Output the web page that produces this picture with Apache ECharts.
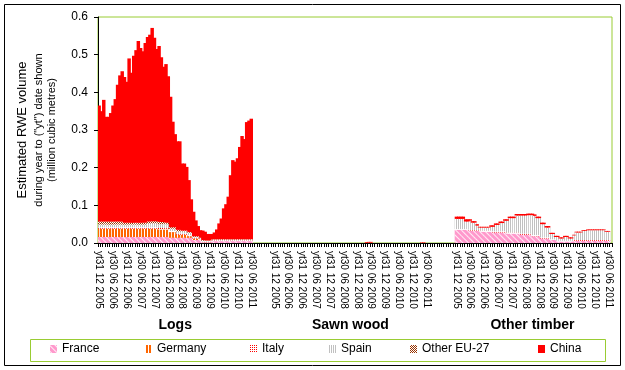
<!DOCTYPE html>
<html>
<head>
<meta charset="utf-8">
<script src="https://cdn.jsdelivr.net/npm/echarts@6/dist/echarts.min.js"></script>
<style>html,body{margin:0;padding:0;background:#fff;}#c{width:625px;height:370px;}</style>
</head>
<body>
<div id="c"></div>
<script>
// ---- data ----
const groups = ['Logs', 'Sawn wood', 'Other timber'];
const tickLabels = ['yt31 12 2005','yt30 06 2006','yt31 12 2006','yt30 06 2007','yt31 12 2007','yt30 06 2008',
                    'yt31 12 2008','yt30 06 2009','yt31 12 2009','yt30 06 2010','yt31 12 2010','yt30 06 2011'];
const seriesNames = ['France', 'Germany', 'Italy', 'Spain', 'Other EU-27', 'China'];

const logsFrance = [0.016,0.016,0.016,0.016,0.016,0.016,0.016,0.016,0.016,0.016,
  0.016,0.016,0.016,0.016,0.016,0.016,0.016,0.016,0.016,0.016,
  0.016,0.016,0.016,0.016,0.016,0.016,0.016,0.016,0.016,0.016,
  0.016,0.014,0.014,0.014,0.014,0.014,0.014,0.014,0.014,0.014,
  0.014,0.008,0.008,0.008,0.008,0.002,0.002,0.002,0.002,0.005,
  0.005,0.005,0.005,0.005,0.005,0.005,0.005,0.005,0.005,0.005,
  0.005,0.005,0.005,0.005,0.005,0.005,0.005];
const logsGermany = [0.022,0.022,0.022,0.022,0.022,0.022,0.022,0.022,0.022,0.022,
  0.022,0.022,0.022,0.022,0.022,0.022,0.022,0.022,0.022,0.022,
  0.022,0.022,0.022,0.022,0.022,0.022,0.020,0.020,0.020,0.020,
  0.020,0.015,0.015,0.015,0.008,0.008,0.008,0.008,0.008,0.004,
  0.004,0.004,0.004,0.004,0,0,0,0,0,0,
  0,0,0,0,0,0,0,0,0,0,
  0,0,0,0,0,0,0];
const logsItaly = [0.004,0.004,0.004,0.004,0.004,0.004,0.004,0.004,0.004,0.004,
  0.004,0.004,0.004,0.004,0.004,0.004,0.004,0.004,0.004,0.004,
  0.004,0.004,0.004,0.004,0.004,0.004,0.004,0.004,0.004,0.004,
  0.004,0.003,0.003,0.003,0.003,0.003,0.003,0.003,0.003,0.003,
  0.003,0.002,0.002,0.002,0.002,0.002,0.002,0.002,0.002,0.002,
  0.002,0.002,0.002,0.002,0.002,0.002,0.002,0.002,0.002,0.002,
  0.002,0.002,0.002,0.002,0.002,0.002,0.002];
const logsSpain = [0.007,0.007,0.007,0.007,0.007,0.007,0.007,0.007,0.007,0.007,
  0.007,0.007,0.007,0.007,0.007,0.007,0.007,0.007,0.007,0.007,
  0.007,0.010,0.010,0.010,0.010,0.010,0.010,0.010,0.010,0.010,
  0.010,0.006,0.006,0.006,0.006,0.006,0.006,0.006,0.006,0.006,
  0.006,0.002,0.002,0.002,0.002,0.002,0.002,0.002,0.002,0.002,
  0.002,0.002,0.002,0.002,0.002,0.002,0.002,0.002,0.002,0.002,
  0.002,0.002,0.002,0.002,0.002,0.002,0.002];
const logsOther = [0.008,0.008,0.008,0.008,0.008,0.008,0.008,0.008,0.008,0.008,
  0.008,0.005,0.005,0.005,0.005,0.005,0.005,0.005,0.005,0.005,
  0.005,0.005,0.005,0.006,0.006,0.006,0.006,0.006,0.006,0.004,
  0.004,0.004,0.004,0.004,0.004,0.004,0.002,0.002,0.002,0.002,
  0.002,0.002,0.002,0.002,0.002,0.002,0.001,0.001,0.001,0.001,
  0.001,0.001,0.001,0.001,0.001,0.001,0.001,0.001,0.001,0.001,
  0.001,0.001,0.001,0.001,0.001,0.001,0.001];
const logsChina = [0.308,0.293,0.323,0.278,0.278,0.288,0.308,0.325,0.363,0.388,
  0.399,0.387,0.374,0.436,0.398,0.443,0.458,0.482,0.464,0.455,
  0.477,0.490,0.496,0.513,0.487,0.457,0.467,0.437,0.412,0.421,
  0.389,0.346,0.280,0.247,0.235,0.235,0.178,0.178,0.169,0.138,
  0.087,0.065,0.042,0.027,0.020,0.025,0.023,0.017,0.017,0.014,
  0.018,0.026,0.042,0.055,0.082,0.093,0.113,0.170,0.210,0.206,
  0.215,0.245,0.274,0.266,0.311,0.315,0.320];

const sawnFrance = [0,0,0,0,0,0,0,0,0,0, 0,0,0,0,0,0,0,0,0,0, 0,0,0,0,0,0,0,0,0,0,
  0,0,0,0,0,0,0,0,0,0, 0,0,0,0,0,0,0,0,0,0, 0,0,0,0,0,0,0,0,0,0, 0,0,0,0,0,0,0];
const sawnGermany = [0,0,0,0,0,0,0,0,0,0, 0,0,0,0,0,0,0,0,0,0, 0,0,0,0,0,0,0,0,0,0,
  0,0,0,0,0,0,0,0,0,0, 0,0,0,0,0,0,0,0,0,0, 0,0,0,0,0,0,0,0,0,0, 0,0,0,0,0,0,0];
const sawnItaly = [0,0,0,0,0,0,0,0,0,0, 0,0,0,0,0,0,0,0,0,0, 0,0,0,0,0,0,0,0,0,0,
  0,0,0,0,0,0,0,0,0,0, 0,0,0,0,0,0,0,0,0,0, 0,0,0,0,0,0,0,0,0,0, 0,0,0,0,0.001,0.001,0];
const sawnSpain = [0,0,0,0,0,0,0,0,0,0, 0,0,0,0,0,0,0,0,0,0, 0,0,0,0,0,0,0,0,0,0,
  0,0,0,0,0,0,0,0,0,0, 0,0,0,0,0,0,0,0,0,0, 0,0,0,0,0,0,0,0,0,0, 0,0,0,0,0,0,0];
const sawnOther = [0,0,0,0,0,0,0,0,0,0, 0,0,0,0,0,0,0,0,0,0, 0,0,0,0,0,0,0,0,0,0,
  0,0,0,0,0,0,0,0,0,0, 0,0.001,0.001,0,0,0,0,0,0,0, 0,0,0,0,0,0,0,0,0,0, 0,0,0,0,0,0,0];
const sawnChina = [0,0,0,0,0,0,0,0,0,0, 0,0,0,0,0,0,0,0,0,0, 0,0,0,0,0,0,0,0,0,0,
  0,0,0,0,0,0,0,0,0,0, 0.002,0.002,0.002,0,0,0,0,0,0,0, 0,0,0,0,0,0,0,0,0,0, 0,0,0,0,0.001,0.001,0];

const otherFrance = [0.035,0.035,0.035,0.035,0.035,0.035,0.032,0.032,0.032,0.032,
  0.032,0.030,0.030,0.030,0.030,0.030,0.028,0.028,0.028,0.028,
  0.028,0.028,0.025,0.025,0.025,0.025,0.025,0.025,0.022,0.022,
  0.022,0.022,0.022,0.018,0.018,0.018,0.018,0.012,0.012,0.012,
  0.012,0.008,0.008,0.008,0.004,0.004,0.004,0.004,0.004,0.004,
  0.004,0.006,0.006,0.006,0.006,0.006,0.006,0.006,0.006,0.006,
  0.006,0.006,0.006,0.006,0.006,0.006,0.006];
const otherGermany = [0,0,0,0,0,0,0,0,0,0, 0,0,0,0,0,0,0,0,0,0, 0,0,0,0,0,0,0,0,0,0,
  0,0,0,0,0,0,0,0,0,0, 0,0,0,0,0,0,0,0,0,0, 0,0,0,0,0,0,0,0,0,0, 0,0,0,0,0,0,0];
const otherItaly = [0.002,0.002,0.002,0.002,0.002,0.002,0.002,0.002,0.002,0.002,
  0.002,0.003,0.003,0.003,0.003,0.003,0.003,0.003,0.003,0.003,
  0.003,0.003,0.003,0.003,0.003,0.003,0.003,0.003,0.003,0.003,
  0.003,0.003,0.003,0.003,0.003,0.003,0.003,0.003,0.003,0.003,
  0.003,0.002,0.002,0.002,0.002,0.002,0.002,0.002,0.002,0.002,
  0.002,0.002,0.002,0.002,0.002,0.002,0.002,0.002,0.002,0.002,
  0.002,0.002,0.002,0.002,0.002,0.002,0.002];
const otherSpain = [0.027,0.027,0.027,0.027,0.020,0.020,0.025,0.020,0.020,0.012,
  0.007,0.008,0.008,0.008,0.008,0.010,0.012,0.017,0.017,0.022,
  0.022,0.028,0.031,0.038,0.038,0.038,0.045,0.045,0.048,0.048,
  0.048,0.049,0.049,0.053,0.051,0.045,0.045,0.035,0.035,0.026,
  0.026,0.014,0.014,0.006,0.010,0.006,0.006,0.010,0.010,0.006,
  0.006,0.012,0.020,0.020,0.020,0.024,0.024,0.026,0.026,0.026,
  0.026,0.026,0.026,0.026,0.026,0.022,0.022];
const otherOther = [0,0,0,0,0,0,0,0,0,0, 0,0,0,0,0,0,0,0,0,0, 0,0,0,0,0,0,0,0,0,0,
  0,0,0,0,0,0,0,0,0,0, 0,0,0,0,0,0,0,0,0,0, 0,0,0,0,0,0,0,0,0,0, 0,0,0,0,0,0,0];
const otherChina = [0.006,0.006,0.006,0.006,0.006,0.006,0.004,0.004,0.004,0.004,
  0.002,0.002,0.002,0.002,0.002,0.004,0.004,0.004,0.004,0.004,
  0.004,0.004,0.004,0.004,0.004,0.004,0.004,0.004,0.004,0.004,
  0.004,0.004,0.004,0.004,0.004,0.004,0.004,0.004,0.004,0.004,
  0.004,0.003,0.003,0.003,0.003,0.003,0.003,0.003,0.003,0.003,
  0.003,0.002,0.002,0.002,0.002,0.002,0.002,0.002,0.002,0.002,
  0.002,0.002,0.002,0.002,0.002,0.002,0.002];

// empty categories after each group
const gapsAfter = [9, 12, 1];
const labelEvery = 6;

// ---- build the category axis ----
const groupData = [
  [logsFrance, logsGermany, logsItaly, logsSpain, logsOther, logsChina],
  [sawnFrance, sawnGermany, sawnItaly, sawnSpain, sawnOther, sawnChina],
  [otherFrance, otherGermany, otherItaly, otherSpain, otherOther, otherChina]
];
const cats = [], tickText = [], groupText = [];
const full = seriesNames.map(() => []);
groupData.forEach((g, gi) => {
  const n = g[0].length;
  const mid = Math.floor((n - 1) / 2);
  for (let i = 0; i < n; i++) {
    cats.push('g' + gi + '_' + i);
    tickText.push(i % labelEvery === 0 ? tickLabels[i / labelEvery] : '');
    groupText.push(i === mid ? groups[gi] : '');
    g.forEach((arr, si) => full[si].push(arr[i]));
  }
  for (let k = 0; k < gapsAfter[gi]; k++) {
    cats.push('gap' + gi + '_' + k);
    tickText.push(''); groupText.push('');
    full.forEach(a => a.push('-'));
  }
});

const FF = '"Liberation Sans", Arial, sans-serif';
const GREEN = '#99CC33';

const styles = [
  { color: '#FF99CC', decal: { symbol: 'rect', symbolSize: 1, color: 'rgba(255,255,255,0.85)', dashArrayX: [1, 0], dashArrayY: [1, 3], rotation: Math.PI / 4 } },
  { color: '#FF6600', decal: { symbol: 'rect', symbolSize: 1, color: '#FFFFFF', dashArrayX: [1, 2], dashArrayY: [1, 0] } },
  { color: '#FFFFFF', decal: { symbol: 'rect', symbolSize: 1, color: '#FF0000', dashArrayX: [1, 1], dashArrayY: [1, 1] } },
  { color: '#FFFFFF', decal: { symbol: 'rect', symbolSize: 1, color: '#C0C0C0', dashArrayX: [1, 1], dashArrayY: [1, 0] } },
  { color: '#FFFFFF', decal: { symbol: 'rect', symbolSize: 1, color: '#993300', dashArrayX: [[1, 1], [0, 1, 1, 0]], dashArrayY: [1, 0] } },
  { color: '#FF0000' }
];

const legendLefts = [50, 145, 250, 329, 410, 538];

const chart = echarts.init(document.getElementById('c'), null, { renderer: 'canvas' });
chart.setOption({
  animation: false,
  backgroundColor: '#fff',
  textStyle: { fontFamily: FF },
  grid: { left: 98, right: 13, top: 17, bottom: 127, show: true, borderColor: GREEN, borderWidth: 1, backgroundColor: 'transparent' },
  xAxis: [{
    type: 'category', data: cats, boundaryGap: true,
    axisLine: { lineStyle: { color: '#000', width: 1 } },
    axisTick: { show: true, interval: 0, length: 4, lineStyle: { color: '#000' } },
    axisLabel: {
      interval: (idx) => tickText[idx] !== '',
      formatter: (v, idx) => tickText[idx],
      rotate: -90, margin: 8, fontSize: 10, color: '#000', fontFamily: FF
    },
    splitLine: { show: false }
  }, {
    type: 'category', data: cats, position: 'bottom', offset: 75,
    axisLine: { show: false }, axisTick: { show: false }, splitLine: { show: false },
    axisLabel: {
      interval: (idx) => groupText[idx] !== '',
      formatter: (v, idx) => groupText[idx],
      fontSize: 14, fontWeight: 'bold', color: '#000', fontFamily: FF, margin: 0
    }
  }],
  yAxis: {
    type: 'value', min: 0, max: 0.6, interval: 0.1,
    axisLine: { show: true, lineStyle: { color: '#000' } },
    axisTick: { show: true, length: 4, lineStyle: { color: '#000' } },
    axisLabel: { formatter: v => v.toFixed(1), fontSize: 12, color: '#000', margin: 10, fontFamily: FF },
    splitLine: { show: false },
    name: '{a|Estimated RWE volume}\n{b|during year to ("yt") date shown}\n{b|(million cubic metres)}',
    nameLocation: 'middle', nameRotate: 90, nameGap: 40,
    nameTextStyle: {
      color: '#000', fontFamily: FF,
      rich: {
        a: { fontSize: 13, lineHeight: 20, color: '#000', fontFamily: FF },
        b: { fontSize: 11, lineHeight: 13, color: '#000', fontFamily: FF }
      }
    }
  },
  legend: seriesNames.map((n, i) => ({
    data: [n], left: legendLefts[i], top: 343, padding: 0,
    icon: 'rect', itemWidth: 7, itemHeight: 8, itemGap: 5,
    textStyle: { fontSize: 12, color: '#000', fontFamily: FF },
    selectedMode: false
  })),
  graphic: [
    { type: 'rect', shape: { x: 30.5, y: 339.5, width: 575, height: 22 }, style: { fill: 'none', stroke: GREEN, lineWidth: 1 }, silent: true },
    { type: 'rect', shape: { x: 4.5, y: 4.5, width: 616, height: 361 }, style: { fill: 'none', stroke: '#000', lineWidth: 1 }, silent: true }
  ],
  series: seriesNames.map((n, i) => ({
    name: n, type: 'bar', stack: 'total', data: full[i],
    barWidth: '150%', barGap: '-100%',
    itemStyle: Object.assign({ borderWidth: 0 }, styles[i]),
    emphasis: { disabled: true }
  }))
});
</script>
</body>
</html>
